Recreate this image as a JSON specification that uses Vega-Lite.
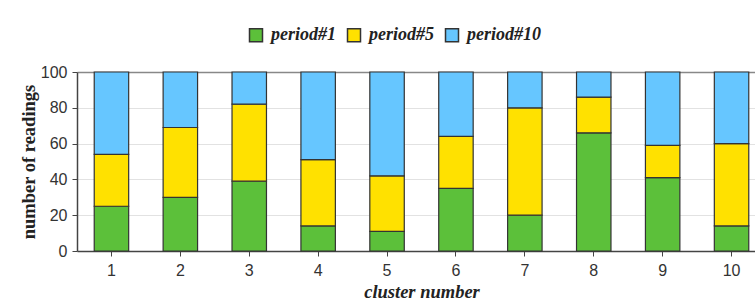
{
  "$schema": "https://vega.github.io/schema/vega-lite/v6.json",
  "width": 678,
  "height": 179,
  "autosize": {"type": "none"},
  "padding": {"left": 77, "top": 72, "right": 0, "bottom": 56},
  "background": "white",
  "data": {
    "values": [
      {"cluster": 1, "period": "period#1", "p": 1, "value": 25},
      {"cluster": 1, "period": "period#5", "p": 5, "value": 29},
      {"cluster": 1, "period": "period#10", "p": 10, "value": 46},
      {"cluster": 2, "period": "period#1", "p": 1, "value": 30},
      {"cluster": 2, "period": "period#5", "p": 5, "value": 39},
      {"cluster": 2, "period": "period#10", "p": 10, "value": 31},
      {"cluster": 3, "period": "period#1", "p": 1, "value": 39},
      {"cluster": 3, "period": "period#5", "p": 5, "value": 43},
      {"cluster": 3, "period": "period#10", "p": 10, "value": 18},
      {"cluster": 4, "period": "period#1", "p": 1, "value": 14},
      {"cluster": 4, "period": "period#5", "p": 5, "value": 37},
      {"cluster": 4, "period": "period#10", "p": 10, "value": 49},
      {"cluster": 5, "period": "period#1", "p": 1, "value": 11},
      {"cluster": 5, "period": "period#5", "p": 5, "value": 31},
      {"cluster": 5, "period": "period#10", "p": 10, "value": 58},
      {"cluster": 6, "period": "period#1", "p": 1, "value": 35},
      {"cluster": 6, "period": "period#5", "p": 5, "value": 29},
      {"cluster": 6, "period": "period#10", "p": 10, "value": 36},
      {"cluster": 7, "period": "period#1", "p": 1, "value": 20},
      {"cluster": 7, "period": "period#5", "p": 5, "value": 60},
      {"cluster": 7, "period": "period#10", "p": 10, "value": 20},
      {"cluster": 8, "period": "period#1", "p": 1, "value": 66},
      {"cluster": 8, "period": "period#5", "p": 5, "value": 20},
      {"cluster": 8, "period": "period#10", "p": 10, "value": 14},
      {"cluster": 9, "period": "period#1", "p": 1, "value": 41},
      {"cluster": 9, "period": "period#5", "p": 5, "value": 18},
      {"cluster": 9, "period": "period#10", "p": 10, "value": 41},
      {"cluster": 10, "period": "period#1", "p": 1, "value": 14},
      {"cluster": 10, "period": "period#5", "p": 5, "value": 46},
      {"cluster": 10, "period": "period#10", "p": 10, "value": 40}
    ]
  },
  "mark": {"type": "bar", "stroke": "#333333", "strokeWidth": 1.2},
  "encoding": {
    "x": {
      "field": "cluster",
      "type": "ordinal",
      "title": "cluster number",
      "scale": {"range": [0, 689], "paddingInner": 0.5, "paddingOuter": 0.25},
      "axis": {
        "labelAngle": 0,
        "grid": false,
        "domainColor": "#444444",
        "domainWidth": 1.5,
        "tickColor": "#444444",
        "tickSize": 5,
        "labelFont": "Liberation Sans",
        "labelFontSize": 16,
        "labelColor": "#333333",
        "labelPadding": 6,
        "titleFont": "Liberation Serif",
        "titleFontSize": 18.5,
        "titleFontWeight": "bold",
        "titleFontStyle": "italic",
        "titleColor": "#222222",
        "titlePadding": 4
      }
    },
    "y": {
      "field": "value",
      "type": "quantitative",
      "stack": "zero",
      "title": "number of readings",
      "scale": {"domain": [0, 100], "nice": false},
      "axis": {
        "values": [0, 20, 40, 60, 80, 100],
        "grid": true,
        "gridColor": {"condition": {"test": "datum.value === 100", "value": "#888888"}, "value": "#e2e2e2"},
        "gridWidth": {"condition": {"test": "datum.value === 100", "value": 1.5}, "value": 1},
        "domainColor": "#444444",
        "domainWidth": 1.5,
        "tickColor": "#444444",
        "tickSize": 5,
        "labelFont": "Liberation Sans",
        "labelFontSize": 16,
        "labelColor": "#333333",
        "labelPadding": 5,
        "titleFont": "Liberation Serif",
        "titleFontSize": 18.5,
        "titleFontWeight": "bold",
        "titleColor": "#222222",
        "titlePadding": 2
      }
    },
    "color": {
      "field": "period",
      "type": "nominal",
      "scale": {
        "domain": ["period#1", "period#5", "period#10"],
        "range": ["#5cc03a", "#ffe100", "#66c6ff"]
      },
      "legend": {
        "orient": "none",
        "direction": "horizontal",
        "legendX": 170,
        "legendY": -46,
        "title": null,
        "padding": 0,
        "symbolType": "square",
        "symbolSize": 169,
        "symbolStrokeColor": "#333333",
        "symbolStrokeWidth": 1.5,
        "symbolOpacity": 1,
        "labelFont": "Liberation Serif",
        "labelFontSize": 18,
        "labelFontWeight": "bold",
        "labelFontStyle": "italic",
        "labelColor": "#222222",
        "labelOffset": 6,
        "columnPadding": 8
      }
    },
    "order": {"field": "p", "type": "quantitative", "sort": "ascending"}
  },
  "config": {
    "view": {"stroke": null},
    "bar": {"opacity": 1}
  }
}
